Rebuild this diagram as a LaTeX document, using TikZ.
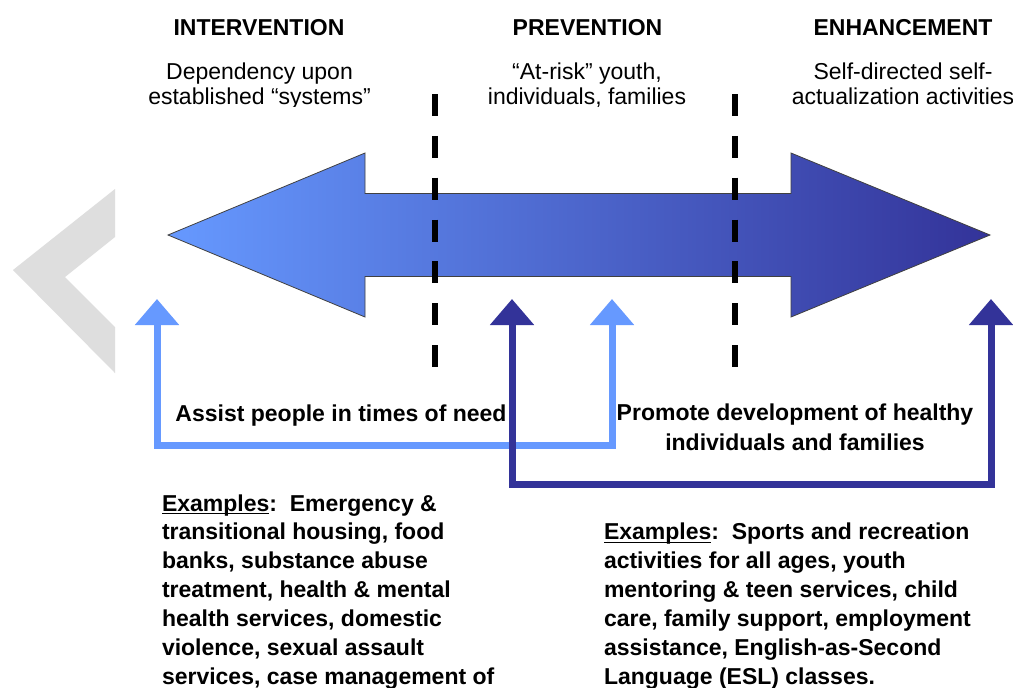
\documentclass[tikz,border=0pt]{standalone}
\usepackage{fontspec}
\setmainfont{Liberation Sans}
\usetikzlibrary{arrows.meta}
\definecolor{skyblue}{HTML}{6699FF}
\definecolor{navyblue}{HTML}{333399}
\definecolor{chevgray}{HTML}{DEDEDE}
% underline set close under the baseline
\newcommand{\ulbox}[1]{\setbox0\hbox{#1}\rlap{\rule[-2.6pt]{\wd0}{1.1pt}}\box0}
\begin{document}
\begin{tikzpicture}[x=0.75pt,y=-0.75pt,
  every node/.style={inner sep=0pt, outer sep=0pt},
  heading/.style={font=\bfseries\fontsize{17.25pt}{20pt}\selectfont, anchor=base},
  subline/.style={font=\fontsize{17.25pt}{18.75pt}\selectfont, anchor=base, align=center},
  boldlabel/.style={font=\bfseries\fontsize{17.25pt}{21.9pt}\selectfont, anchor=base, align=center},
  examples/.style={font=\bfseries\fontsize{17.25pt}{21.7pt}\selectfont, anchor=base west, align=left},
  divider/.style={line width=4.5pt, dash pattern=on 16.5pt off 14.9pt},
  link/.style={line width=5.25pt, >={Triangle[width=32pt,length=19.5pt]}, <->},
]
\useasboundingbox (0,0) rectangle (1013,687);
\fill[white] (0,0) rectangle (1013,687);

% faded chevron at the left edge
\fill[chevgray] (115,189) -- (13,270) -- (115,373) -- (115,327) -- (65,277) -- (115,237) -- cycle;

% the continuum double arrow
\path[draw=black!75, line width=0.6pt, left color=skyblue, right color=navyblue]
  (168,235) -- (365,153) -- (365,193.5) -- (791,193.5) -- (791,153) -- (990,235)
  -- (791,317) -- (791,276.5) -- (365,276.5) -- (365,317) -- cycle;

% stage dividers
\coordinate (dA1) at (435,94);  \coordinate (dA2) at (435,367);
\coordinate (dB1) at (735,94);  \coordinate (dB2) at (735,367);
\draw[divider] (dA1) -- (dA2);
\draw[divider] (dB1) -- (dB2);

% stage headings
\node[heading] (hInt)  at (259,35) {INTERVENTION};
\node[heading] (hPrev) at (587.5,35) {PREVENTION};
\node[heading] (hEnh)  at (903,35) {ENHANCEMENT};

% stage descriptions (multi-line nodes sit on their last baseline)
\begin{scope}
  \clip (0,0) rectangle (1013,106);
  \node[subline] (sInt)  at (259.5,104.5) {Dependency upon\\established “systems”};
  \node[subline] (sPrev) at (587,104.5) {“At-risk” youth,\\individuals, families};
  \node[subline] (sEnh)  at (903,104.5) {Self-directed self-\\actualization activities};
\end{scope}

% purpose labels
\node[boldlabel] (assist)  at (341,421) {Assist people in times of need};
\node[boldlabel] (promote) at (795,450) {Promote development of healthy\\individuals and families};

% connector brackets
\coordinate (aL) at (157,299);  \coordinate (aLc) at (157,445);
\coordinate (aRc) at (612,445); \coordinate (aR) at (612,299);
\draw[link, skyblue] (aL) -- (aLc) -- (aRc) -- (aR);

\coordinate (bL) at (512,299);  \coordinate (bLc) at (512,484);
\coordinate (bRc) at (991,484); \coordinate (bR) at (991,299);
\draw[link, navyblue] (bL) -- (bLc) -- (bRc) -- (bR);

% example lists
\node[examples] (exL) at (162,684.6)
  {\ulbox{Examples}:\ \ Emergency \&\\transitional housing, food\\banks, substance abuse\\treatment, health \& mental\\health services, domestic\\violence, sexual assault\\services, case management of};
\node[examples] (exR) at (604,684.6)
  {\ulbox{Examples}:\ \ Sports and recreation\\activities for all ages, youth\\mentoring \& teen services, child\\care, family support, employment\\assistance, English-as-Second\\Language (ESL) classes.};
\end{tikzpicture}
\end{document}
